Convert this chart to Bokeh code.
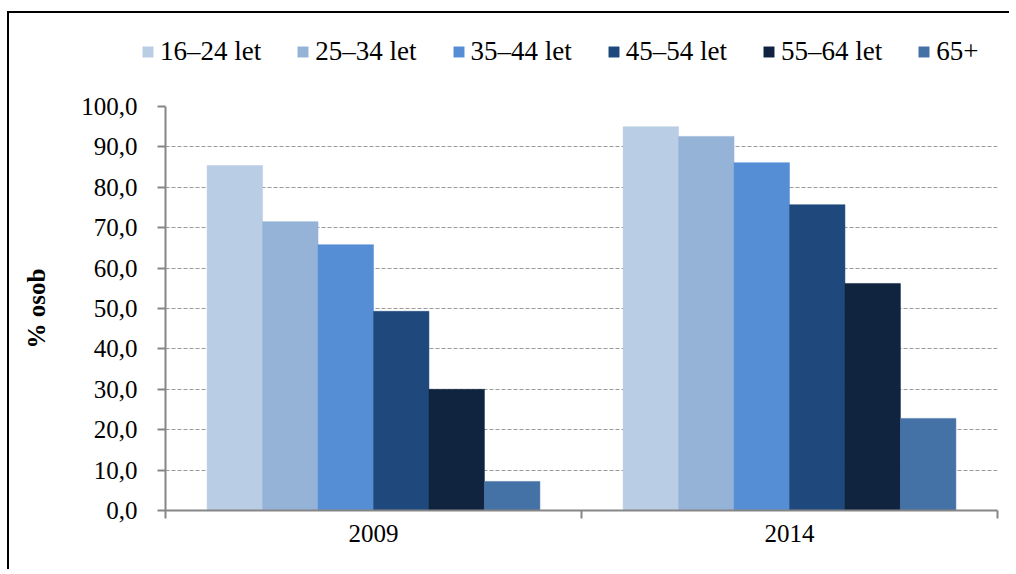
from bokeh.plotting import figure
from bokeh.layouts import column
from bokeh.models import (ColumnDataSource, Legend, LegendItem, LinearAxis,
                          FixedTicker, Range1d)
from bokeh.embed import file_html
from bokeh.resources import INLINE

# ---- data ----
years = ["2009", "2014"]
groups = ["16–24 let", "25–34 let", "35–44 let", "45–54 let", "55–64 let", "65+"]
v_16_24 = [85.4, 95.0]
v_25_34 = [71.5, 92.6]
v_35_44 = [65.8, 86.1]
v_45_54 = [49.3, 75.7]
v_55_64 = [30.0, 56.2]
v_65 = [7.2, 22.8]
series = [v_16_24, v_25_34, v_35_44, v_45_54, v_55_64, v_65]
colors = ["#B9CDE5", "#95B3D7", "#558ED5", "#1F497D", "#10243F", "#4471A6"]
y_ticks = [0, 10, 20, 30, 40, 50, 60, 70, 80, 90, 100]

FONT = "Liberation Serif"
FS = "25px"
W = 1000

# ---- legend strip (its data lies outside its visible range) ----
lg = figure(width=W, height=73, output_backend="svg", toolbar_location=None,
            x_range=Range1d(-20, -19), y_range=Range1d(0, 1),
            x_axis_location=None, y_axis_location=None,
            min_border=0, outline_line_color=None)
lg.grid.visible = False
lg.frame_align = False

# ---- main chart ----
p = figure(width=W, height=483, output_backend="svg", toolbar_location=None,
           x_range=Range1d(0, len(years)), y_range=Range1d(0, 100),
           x_axis_location=None, y_axis_location=None,
           min_border_left=156, min_border_right=12, min_border_top=20,
           min_border_bottom=59, outline_line_color=None)
p.frame_align = False

p.xgrid.visible = False
p.ygrid.grid_line_color = "#9a9a9a"
p.ygrid.grid_line_dash = "4 2"
p.ygrid.grid_line_width = 1
p.ygrid.ticker = FixedTicker(ticks=y_ticks)

group_w = 0.8
bar_w = group_w / len(groups)
items = []
for j, (name, vals, col) in enumerate(zip(groups, series, colors)):
    xs = [i + (1 - group_w) / 2 + (j + 0.5) * bar_w for i in range(len(years))]
    src = ColumnDataSource(dict(x=xs, top=vals))
    p.vbar(x="x", top="top", width=bar_w, bottom=0, source=src,
           fill_color=col, line_color=col, line_width=0.5)
    r = lg.vbar(x="x", top="top", width=bar_w, bottom=0, source=src,
                fill_color=col, line_color=col, line_width=0.5)
    items.append(LegendItem(label=name, renderers=[r]))

# y axis
yax = LinearAxis(ticker=FixedTicker(ticks=y_ticks),
                 major_label_overrides={t: f"{t:.1f}".replace(".", ",") for t in y_ticks})
yax.axis_label = "% osob"
yax.axis_label_text_font = FONT
yax.axis_label_text_font_size = FS
yax.axis_label_text_font_style = "bold"
yax.axis_label_text_color = "black"
yax.axis_label_standoff = 28
yax.major_label_text_font = FONT
yax.major_label_text_font_size = FS
yax.major_label_text_color = "black"
yax.major_label_standoff = 20
yax.axis_line_color = "#868686"
yax.axis_line_width = 2
yax.major_tick_line_color = "#868686"
yax.major_tick_line_width = 2
yax.major_tick_out = 8
yax.major_tick_in = 0
yax.minor_tick_line_color = None
p.add_layout(yax, "left")

# x axis: boundary ticks
xax1 = LinearAxis(ticker=FixedTicker(ticks=list(range(len(years) + 1))),
                  major_label_overrides={i: "" for i in range(len(years) + 1)})
xax1.major_label_text_font_size = "1px"
xax1.major_label_standoff = 0
xax1.axis_line_color = "#868686"
xax1.axis_line_width = 2
xax1.major_tick_line_color = "#868686"
xax1.major_tick_line_width = 2
xax1.major_tick_out = 8
xax1.major_tick_in = 0
xax1.minor_tick_line_color = None
p.add_layout(xax1, "below")

# x axis: category labels
centers = [i + 0.5 for i in range(len(years))]
xax2 = LinearAxis(ticker=FixedTicker(ticks=centers),
                  major_label_overrides={c: y for c, y in zip(centers, years)})
xax2.major_label_text_font = FONT
xax2.major_label_text_font_size = FS
xax2.major_label_text_color = "black"
xax2.major_label_standoff = 6
xax2.axis_line_color = None
xax2.major_tick_line_color = None
xax2.major_tick_out = 0
xax2.major_tick_in = 0
xax2.minor_tick_line_color = None
p.add_layout(xax2, "below")

legend = Legend(items=items, orientation="horizontal", location=(132, 19),
                glyph_width=13, glyph_height=13, label_standoff=6, spacing=35,
                padding=0, margin=0, border_line_color=None,
                background_fill_alpha=0, label_text_font=FONT,
                label_text_font_size="27px", label_text_color="black")
lg.add_layout(legend, "center")

layout = column(lg, p, spacing=0,
                styles={"margin-left": "7px", "margin-top": "11px",
                        "border-left": "2px solid black",
                        "border-top": "2px solid black"})

open("out.html", "w").write(file_html(layout, INLINE))
